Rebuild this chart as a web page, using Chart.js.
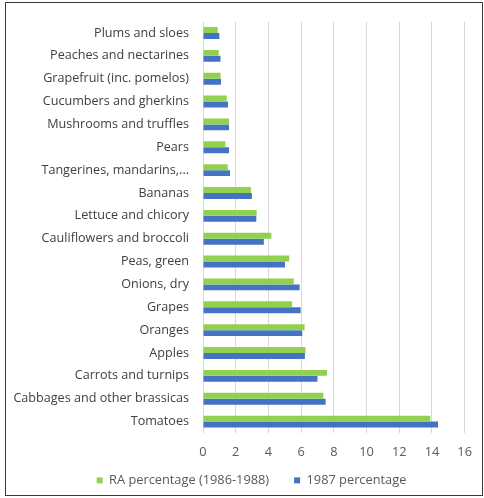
<!DOCTYPE html>
<html>
<head>
<meta charset="utf-8">
<script src="https://cdn.jsdelivr.net/npm/chart.js@4"></script>
<style>
  html, body { margin: 0; padding: 0; background: #fff; }
  #wrap { position: relative; width: 484px; height: 498px; }
  #frame { position: absolute; left: 5px; top: 2px; width: 476px; height: 492px; border: 1.5px solid #3a3a3a; pointer-events: none; }
  canvas { position: absolute; left: 0; top: 0; }
</style>
</head>
<body>
<div id="wrap">
  <canvas id="c" width="484" height="498"></canvas>
  <div id="frame"></div>
</div>
<script>
const categories = [
  "Plums and sloes", "Peaches and nectarines", "Grapefruit (inc. pomelos)",
  "Cucumbers and gherkins", "Mushrooms and truffles", "Pears",
  "Tangerines, mandarins,...", "Bananas", "Lettuce and chicory",
  "Cauliflowers and broccoli", "Peas, green", "Onions, dry", "Grapes",
  "Oranges", "Apples", "Carrots and turnips", "Cabbages and other brassicas", "Tomatoes"
];
const raPercentage = [0.9, 0.96, 1.07, 1.45, 1.59, 1.37, 1.51, 2.93, 3.28, 4.18, 5.27, 5.55, 5.45, 6.21, 6.27, 7.58, 7.36, 13.9];
const pct1987 = [1.0, 1.07, 1.1, 1.53, 1.59, 1.59, 1.65, 2.99, 3.26, 3.72, 5.01, 5.91, 5.97, 6.07, 6.23, 7.0, 7.5, 14.37];
const seriesNames = ["RA percentage (1986-1988)", "1987 percentage"];

const FONT = "'Open Sans', sans-serif";
const FS = 12.8;

// shift the legend box after layout (position only)
const legendShift = {
  id: 'legendShift',
  afterLayout(chart) {
    const lg = chart.legend;
    if (!lg) return;
    lg.left += 16; lg.right += 16;
    lg.top = 449; lg.bottom = 498; lg.height = 49;
  }
};

new Chart(document.getElementById('c'), {
  type: 'bar',
  data: {
    labels: categories,
    datasets: [
      { label: seriesNames[0], data: raPercentage, backgroundColor: '#92D050', borderWidth: 0 },
      { label: seriesNames[1], data: pct1987, backgroundColor: '#4472C4', borderWidth: 0 }
    ]
  },
  plugins: [legendShift],
  options: {
    indexAxis: 'y',
    responsive: false,
    animation: false,
    datasets: { bar: { barPercentage: 1.0, categoryPercentage: 0.52 } },
    layout: { padding: { left: 0, right: 13, top: 15, bottom: 0 } },
    plugins: {
      tooltip: { enabled: false },
      legend: {
        position: 'bottom',
        maxHeight: 32,
        labels: {
          boxWidth: 6, boxHeight: 6, padding: 25,
          color: '#595959',
          font: { family: FONT, size: FS }
        }
      }
    },
    scales: {
      x: {
        min: 0, max: 16,
        afterFit: (s) => { s.height = 33; },
        ticks: { stepSize: 2, color: '#595959', padding: 12, font: { family: FONT, size: FS } },
        grid: { color: '#d9d9d9', drawTicks: false },
        border: { display: false }
      },
      y: {
        afterFit: (s) => { s.width = 203; },
        ticks: { color: '#404040', padding: 14, font: { family: FONT, size: 12.6 }, autoSkip: false },
        grid: { display: false, drawTicks: false },
        border: { display: false }
      }
    }
  }
});
</script>
</body>
</html>
